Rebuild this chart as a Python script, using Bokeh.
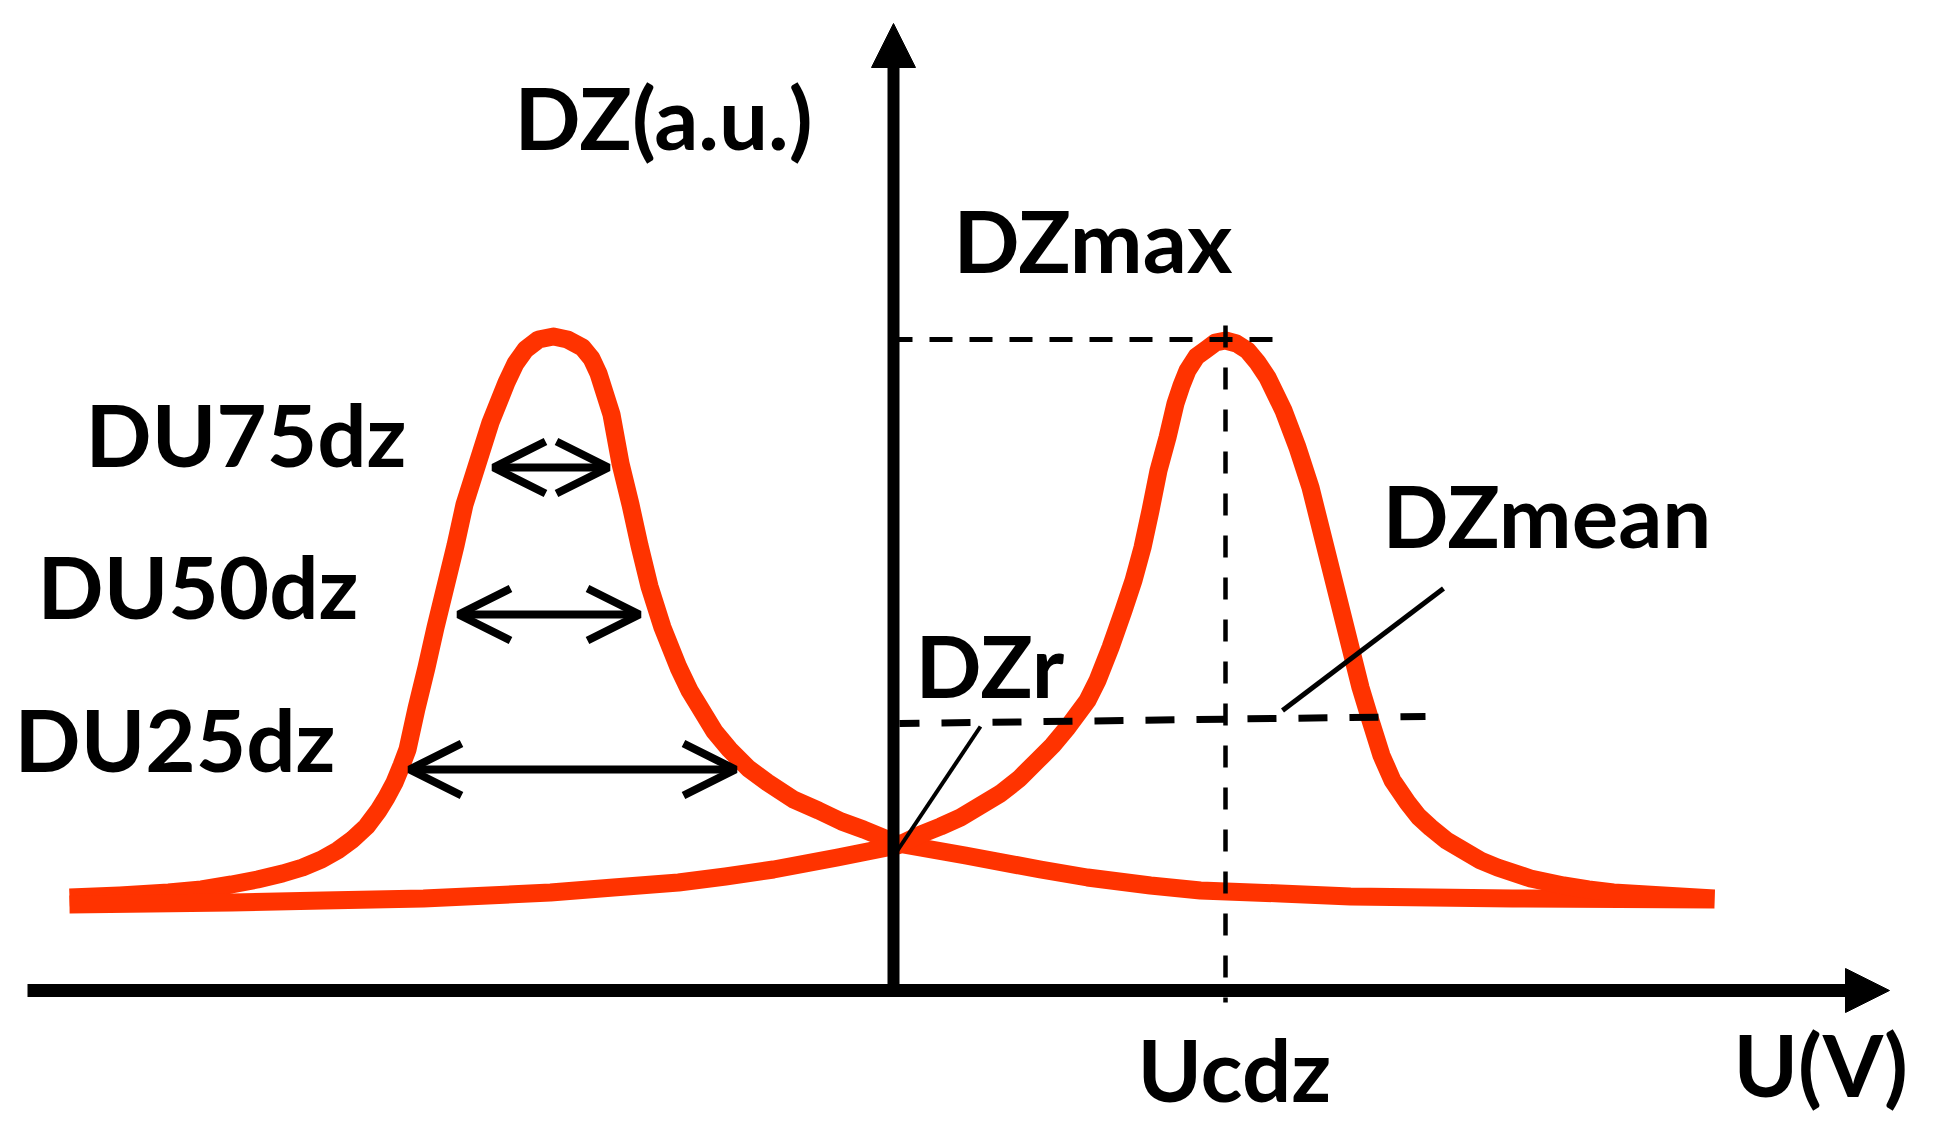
from bokeh.plotting import figure
from bokeh.models import Range1d, ColumnDataSource, Arrow, OpenHead, NormalHead
from bokeh.embed import file_html
from bokeh.resources import INLINE
from bokeh.core.properties import value

# ---- data (U: bias, DZ: a.u.; origin at the axes crossing) ----
# butterfly branch with its maximum at negative bias
curve_a_u = [-824, -774, -725, -692, -662, -636, -611, -591, -572, -556, -541, -527,
             -515, -507, -499, -492, -486, -477, -467, -458, -448, -438, -429, -416,
             -403, -387, -378, -368, -355, -340, -326, -311, -302, -295, -282, -273,
             -263, -254, -244, -231, -215, -204, -193, -179, -164, -145, -126, -100,
             -75, -52, -30, 4, 72, 147, 194, 257, 307, 387, 457, 619, 821]
curve_a_dz = [93, 95, 98, 101, 106, 111, 117, 123, 131, 140, 151, 164,
              180, 193, 208, 225, 241, 282, 323, 363, 404, 445, 486, 527,
              568, 608, 627, 641, 651, 654, 651, 643, 632, 617, 576, 527,
              486, 445, 404, 363, 323, 300, 282, 259, 241, 222, 208, 191,
              180, 169, 161, 147, 135, 121, 113, 105, 100, 97, 94, 92, 91]

# butterfly branch with its maximum at positive bias
curve_b_u = [-824, -743, -662, -570, -470, -343, -280, -215, -168, -120, -88, -56, 4,
             27, 47, 67, 87, 107, 126, 144, 159, 174, 194, 204, 217, 230, 240, 249,
             257, 265, 274, 282, 288, 294, 303, 314, 322, 332, 343, 354, 364, 374,
             390, 404, 417, 427, 437, 447, 457, 467, 477, 488, 499, 514, 525, 537,
             553, 570, 587, 604, 637, 670, 695, 720, 770, 821]
curve_b_dz = [86, 87, 88, 90, 92, 98, 103, 108, 114, 121, 127, 133, 145,
              156, 164, 173, 185, 197, 212, 230, 245, 263, 290, 310, 343, 380, 410, 443,
              480, 520, 553, 587, 605, 620, 634, 642, 648, 650, 647, 640, 628, 613,
              580, 543, 503, 463, 423, 383, 343, 303, 270, 235, 210, 188, 174, 163,
              150, 140, 130, 123, 112, 105, 101, 98, 95, 92]

dz_max = 651          # DZmax level
u_cdz = 332           # Ucdz (bias of the maximum)
dzr_u = [6, 532]      # DZr level line
dzr_dz = [267, 274]

du_names = ["DU75dz", "DU50dz", "DU25dz"]
du_level = [523, 376, 221]
du_left = [-400, -435, -484]
du_right = [-285, -254, -158]

# ---- figure (page pixels map 1:1 to the units above) ----
p = figure(width=1950, height=1138,
           x_range=Range1d(-893, 1057), y_range=Range1d(-148, 990),
           output_backend="svg", toolbar_location=None,
           x_axis_location=None, y_axis_location=None, min_border=0)
p.grid.visible = False
p.outline_line_color = None
p.background_fill_color = "white"
p.border_fill_color = "white"

RED = "#ff3300"

# axes with arrow heads
p.add_layout(Arrow(x_start=0, y_start=-6, x_end=0, y_end=967,
                   line_width=12, line_color="black",
                   end=NormalHead(size=44, fill_color="black", line_color="black", line_width=1)))
p.add_layout(Arrow(x_start=-866, y_start=0, x_end=996, y_end=0,
                   line_width=13, line_color="black",
                   end=NormalHead(size=44, fill_color="black", line_color="black", line_width=1)))

# curves
p.line(curve_a_u, curve_a_dz, line_color=RED, line_width=18, line_join="round")
p.line(curve_b_u, curve_b_dz, line_color=RED, line_width=18, line_join="round")

# DZmax / Ucdz dashed guides
p.line([4, 383], [dz_max, dz_max], line_color="black", line_width=5,
       line_dash="23 17", line_dash_offset=8)
p.line([u_cdz, u_cdz], [665, -12], line_color="black", line_width=4.5,
       line_dash="22 20")

# DZr dashed level
p.line(dzr_u, dzr_dz, line_color="black", line_width=7, line_dash="29 22",
       line_dash_offset=9)

# leader lines
p.line([87, 2], [264, 137], line_color="black", line_width=4)
p.line([550, 389], [402, 280], line_color="black", line_width=5)

# width arrows
for lv, l, r in zip(du_level, du_left, du_right):
    p.add_layout(Arrow(x_start=l, y_start=lv, x_end=r, y_end=lv,
                       line_width=8, line_color="black",
                       start=OpenHead(size=52, line_width=8, line_color="black"),
                       end=OpenHead(size=52, line_width=8, line_color="black")))

# labels
labels = ["DZ(a.u.)", "DZmax", "DZr", "DZmean", "Ucdz", "U(V)"] + du_names
lab_u = [-379, 60, 22, 489, 244, 840, -808, -856, -879]
lab_dz = [874, 751, 326, 476, -78, -73, 557, 405, 252]
src = ColumnDataSource(dict(t=labels, u=lab_u, dz=lab_dz))
p.text(x="u", y="dz", text="t", source=src, text_font=value("Lato"),
       text_font_style="bold", text_font_size=value("87px"),
       text_color="black", text_align="left", text_baseline="alphabetic")

open("out.html", "w").write(file_html(p, INLINE))
